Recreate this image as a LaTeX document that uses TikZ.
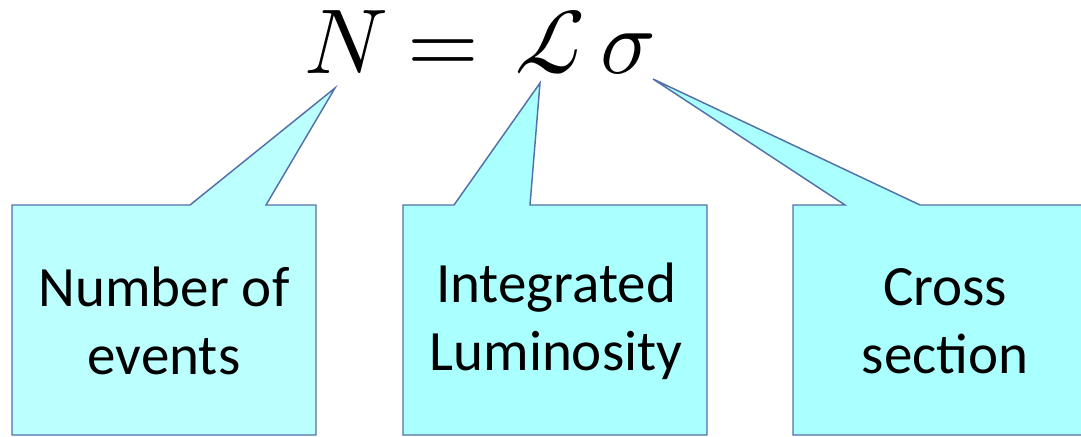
\documentclass[tikz,border=0pt]{standalone}
\usepackage{fontspec}
\usepackage{unicode-math}
\setmathfont{Latin Modern Math}
\newfontfamily\boxfont{Carlito}
\definecolor{bubbleA}{RGB}{187,255,255}
\definecolor{bubbleB}{RGB}{170,255,255}
\definecolor{bubbleline}{RGB}{84,112,168}
\begin{document}
\begin{tikzpicture}[x=0.75pt,y=-0.75pt,
  bubble/.style={draw=bubbleline,line width=1.1pt,line join=miter},
  boxtext/.style={font=\boxfont\fontsize{42.75}{51}\selectfont,align=center,inner sep=0pt},
  eqn/.style={font=\fontsize{69}{80}\selectfont,inner sep=0pt,anchor=base}]
  \useasboundingbox (0,0) rectangle (1081,436);
  % formula
  \node[eqn] (N) at (346,73) {$N$};
  \node[eqn] (eq) at (443,73) {$=$};
  \node[eqn] (L) at (550,73) {$\mathcal{L}$};
  \node[eqn] (sig) at (628,73) {$\sigma$};
  \coordinate (tipN) at (335,88);
  \coordinate (tipL) at (540,83);
  \coordinate (tipS) at (653,79);
  % callouts
  \foreach \l/\r/\a/\b/\t/\f in {12/316/190/266/tipN/bubbleA,403/707/454/530/tipL/bubbleB,793/1095/845/920/tipS/bubbleB}{
    \draw[bubble,fill=\f] (\l,205) -- (\a,205) -- (\t) -- (\b,205) -- (\r,205) -- (\r,435) -- (\l,435) -- cycle;
  }
  \node[boxtext] (num) at (164,321) {Number of\\events};
  \node[boxtext] (lum) at (556,321) {Integrated\\Luminosity};
  \node[boxtext] (xsec) at (945,321) {Cross\\section};
\end{tikzpicture}
\end{document}
